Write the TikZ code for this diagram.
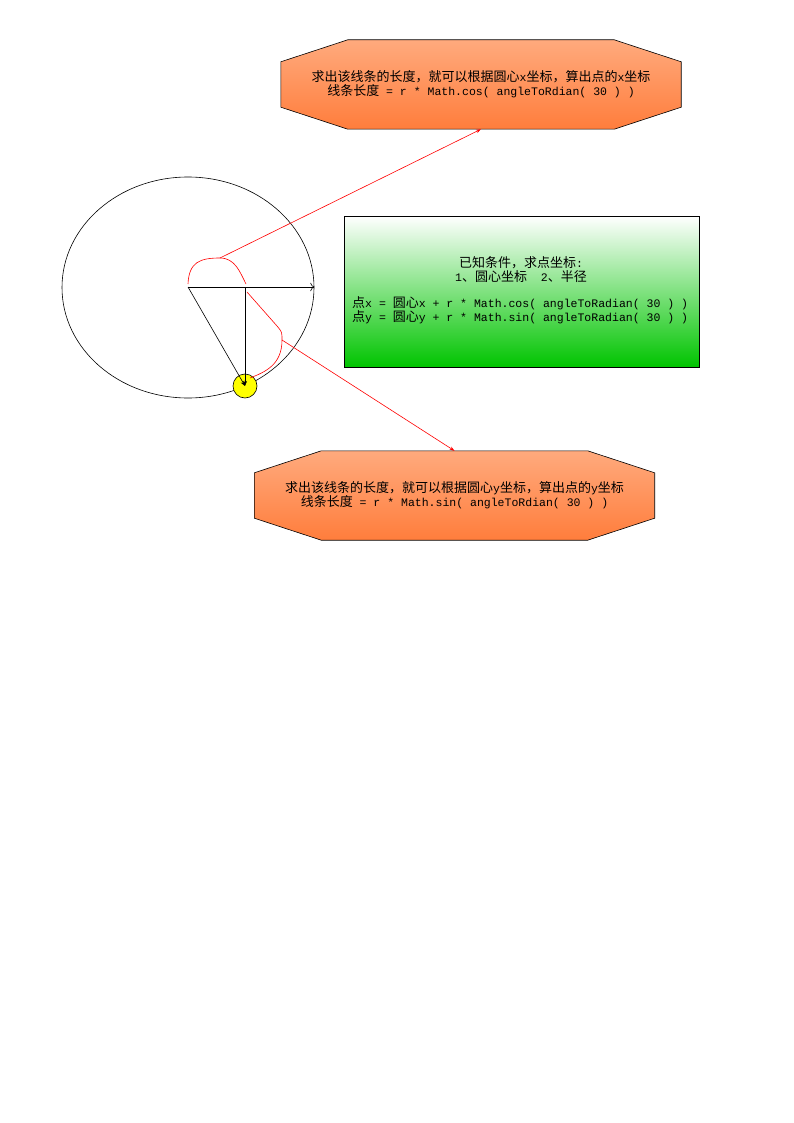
\documentclass[tikz,border=0pt]{standalone}
\usepackage{fontspec}
\setmainfont{Liberation Mono}[Scale=0.885]
\newfontfamily\cjk{Noto Sans CJK SC}
\usetikzlibrary{shapes.geometric,arrows.meta,calc,backgrounds}
\definecolor{orTop}{RGB}{255,170,125}
\definecolor{orBot}{RGB}{255,125,60}
\definecolor{grBot}{RGB}{0,196,0}
\definecolor{yel}{RGB}{255,255,0}
\newcommand\zh[1]{{\cjk #1}}
\begin{document}
\begin{tikzpicture}[x=1pt,y=-1pt,
  txt/.style={font=\fontsize{13}{14}\selectfont, inner sep=0pt, align=center},
  octbox/.style={txt, minimum width=400pt, minimum height=89pt},
  octfill/.style={draw=black, line width=0.6pt, top color=orTop, bottom color=orBot},
  redarrow/.style={red, line width=0.6pt, -{Stealth[length=5pt,width=3.5pt]}},
  redline/.style={red, line width=0.6pt},
  blk/.style={black, line width=0.6pt}]
\useasboundingbox (0,0) rectangle (794,1123);

% top octagon
\node[octbox] (xlen) at (481,84.5) {\zh{求出该线条的长度，就可以根据圆心}x\zh{坐标，算出点的}x\zh{坐标}\\\zh{线条长度} = r * Math.cos( angleToRdian( 30 ) )};
% bottom octagon
\node[octbox] (ylen) at (454.5,495.5) {\zh{求出该线条的长度，就可以根据圆心}y\zh{坐标，算出点的}y\zh{坐标}\\\zh{线条长度} = r * Math.sin( angleToRdian( 30 ) )};
\begin{pgfonlayer}{background}
\fill[white] (0,0) rectangle (794,1123);
\foreach \n in {xlen,ylen}{
  \path[octfill] ($(\n.north west)+(67,0)$) -- ($(\n.north east)+(-67,0)$) -- ($(\n.north east)+(0,22)$) -- ($(\n.south east)+(0,-22)$) -- ($(\n.south east)+(-67,0)$) -- ($(\n.south west)+(67,0)$) -- ($(\n.south west)+(0,-22)$) -- ($(\n.north west)+(0,22)$) -- cycle;
}
\end{pgfonlayer}

% green box
\node[draw, line width=0.6pt, top color=white, bottom color=grBot, minimum width=355pt, minimum height=151pt, inner sep=0pt] (known) at (521.5,291.5) {};
\node[txt] (knownhead) at (521,270) {\zh{已知条件，求点坐标}:\\1\zh{、圆心坐标}\ \ 2\zh{、半径}};
\node[txt, anchor=west, align=left] (knownform) at (352,310) {\zh{点}x = \zh{圆心}x + r * Math.cos( angleToRadian( 30 ) )\\\zh{点}y = \zh{圆心}y + r * Math.sin( angleToRadian( 30 ) )};

% circle diagram
\node[ellipse, draw, blk, minimum width=252pt, minimum height=221pt, inner sep=0pt] (circ) at (188,287.5) {};
\coordinate (O) at (188,287);
\coordinate (F) at (245,287);
\node[circle, draw, blk, fill=yel, minimum size=24pt, inner sep=0pt] (pt) at (245,386) {};
\draw[blk, -{To[length=4pt]}] (O) -- (O -| circ.east);
\draw[blk, -{Stealth[length=5pt,width=4pt]}] (O) -- (pt.center);
\draw[blk, -{Stealth[length=5pt,width=4pt]}] (F) -- (pt.center);

% red braces
\draw[redline] (188,284) .. controls (189,262) and (200,258) .. (220,258) coordinate (b1) .. controls (235,258) and (240,272) .. (246,284);
\draw[redline] (247,292) -- (277,326) .. controls (282,332) .. (282,340) coordinate (b2) .. controls (282,365) and (265,372) .. (250,378);
\draw[redarrow] (b1) -- (xlen.south);
\draw[redarrow] (b2) -- (ylen.north);
\end{tikzpicture}
\end{document}
